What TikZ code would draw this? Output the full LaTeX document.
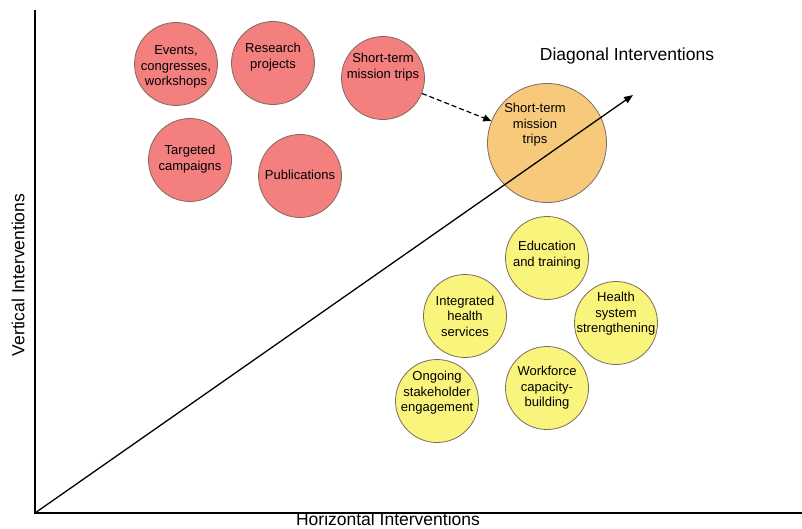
\documentclass[tikz,border=0pt]{standalone}
\usepackage{fontspec}
\setmainfont{Liberation Sans}
\usetikzlibrary{arrows.meta}
\definecolor{redfill}{HTML}{F47F7F}
\definecolor{orfill}{HTML}{F7C97B}
\definecolor{yefill}{HTML}{F9F47C}
\definecolor{bub}{HTML}{7E6A5E}
\tikzset{
  bubble/.style={circle, draw=bub, line width=0.8pt, inner sep=0pt, minimum size=#1},
  redb/.style={bubble=83pt, fill=redfill},
  yelb/.style={bubble=83pt, fill=yefill},
  orb/.style={bubble=119pt, fill=orfill},
  txt/.style={align=center, font=\fontsize{13}{15.5}\selectfont, inner sep=0pt},
  axlabel/.style={font=\fontsize{17.5}{20}\selectfont, inner sep=0pt},
  axis/.style={line width=1.4pt, black},
}
\begin{document}
\begin{tikzpicture}[x=1pt,y=-1pt]
\useasboundingbox (0,0) rectangle (802,529);
% axes
\coordinate (top) at (35,10);
\coordinate (O) at (35,513);
\coordinate (right) at (802,513);
\coordinate (tip) at (633,95);
\draw[axis] (top) -- (O) -- (right);
% red bubbles
\node[redb] (ev) at (176,64) {};
\node[txt] at (176,67) {Events,\\congresses,\\workshops};
\node[redb] (rp) at (273,63) {};
\node[txt] at (273,57) {Research\\projects};
\node[redb] (st1) at (383,78) {};
\node[txt] at (383,67) {Short-term\\mission trips};
\node[redb] (tc) at (190,160) {};
\node[txt] at (190,159) {Targeted\\campaigns};
\node[redb] (pb) at (300,176) {};
\node[txt] at (300,175) {Publications};
% orange bubble
\node[orb] (st2) at (547,143) {};
\node[txt] at (535,125) {Short-term\\mission\\trips};
% yellow bubbles
\node[yelb] (ed) at (547,258) {};
\node[txt] at (547,255) {Education\\and training};
\node[yelb] (ih) at (465,316) {};
\node[txt] at (465,316) {Integrated\\health\\services};
\node[yelb] (hs) at (616,323) {};
\node[txt] at (616,314) {Health\\system\\strengthening};
\node[yelb] (os) at (437,401) {};
\node[txt] at (437,393) {Ongoing\\stakeholder\\engagement};
\node[yelb] (wf) at (547,388) {};
\node[txt] at (547,388) {Workforce\\capacity-\\building};
% arrows
\draw[line width=1.3pt, -{Triangle[length=9pt,width=7pt]}] (O) -- (tip);
\draw[line width=1.2pt, dash pattern=on 5pt off 3pt, -{Triangle[length=8pt,width=7pt]}] (st1) -- (st2);
% labels
\node[axlabel] (diag) at (627,56) {Diagonal Interventions};
\node[axlabel, rotate=90] (vert) at (18,275) {Vertical Interventions};
\node[axlabel, anchor=base] (horiz) at (388,525) {Horizontal Interventions};
\end{tikzpicture}
\end{document}
